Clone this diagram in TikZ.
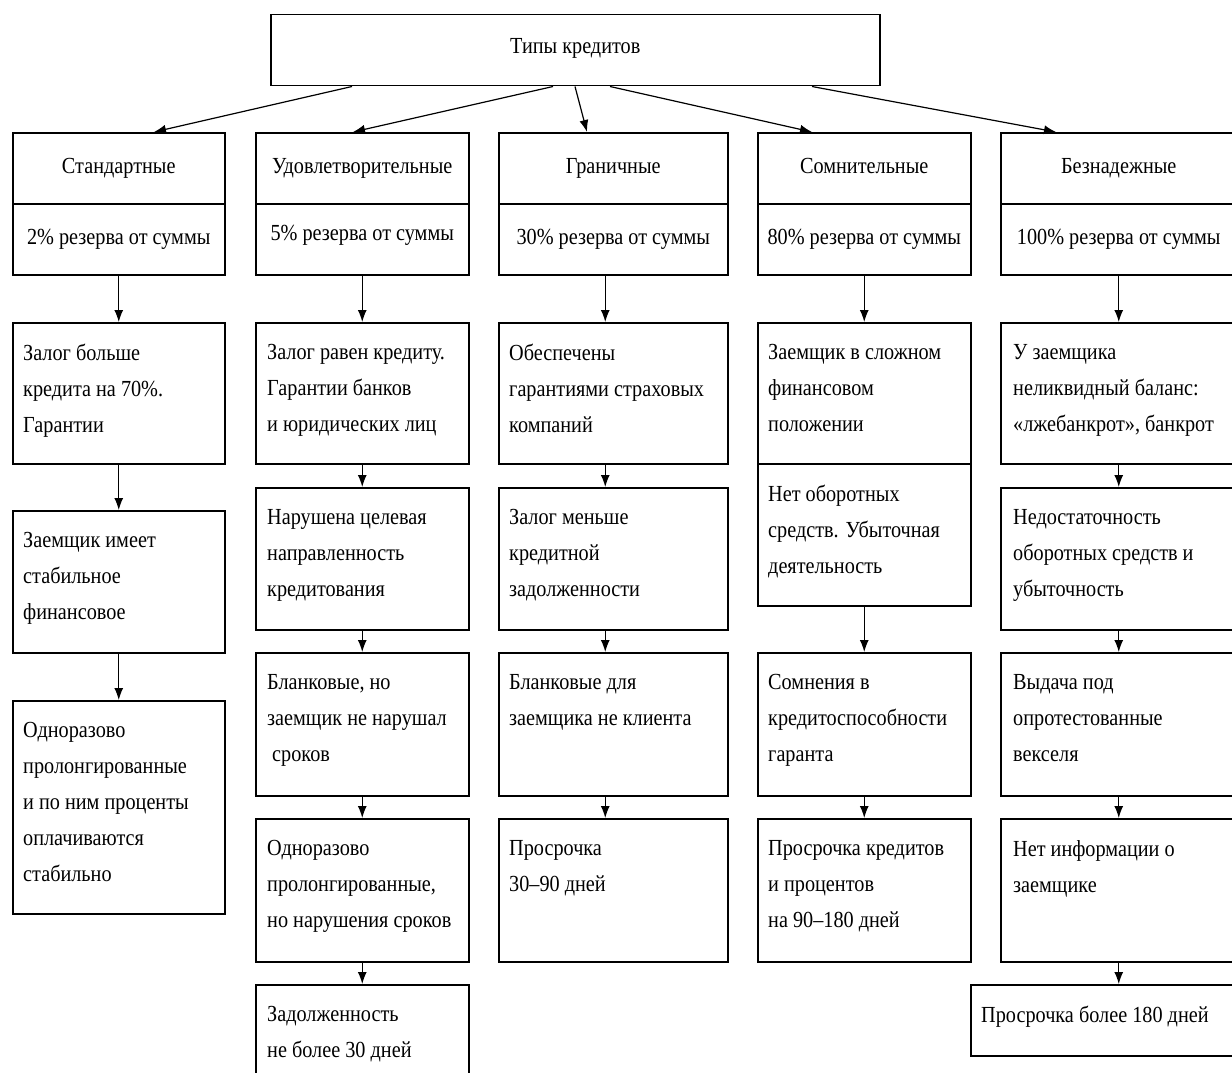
\documentclass[tikz,border=0pt]{standalone}
\usepackage{fontspec}
\setmainfont[FakeStretch=0.88]{Liberation Serif}
\usetikzlibrary{arrows.meta}

\begin{document}
\begin{tikzpicture}[x=1pt, y=-1pt,
        every node/.style={font=\fontsize{23}{36}\selectfont},
        box/.style={draw, line width=1.5pt, anchor=north west, inner sep=0pt},
        head/.style={box, minimum height=71, text height=15pt, text depth=5pt},
        txt/.style={anchor=north west, inner sep=0pt, align=left},
        arr/.style={line width=1.2pt, -{Latex[length=12pt,width=9pt]}}]
    \useasboundingbox (0,0) rectangle (1232,1073);

    % top box
    \node[box, minimum width=609, minimum height=71] (top) at (270,14) {\raisebox{9pt}{Типы кредитов}};

    % categories and reserves
    \node[head, minimum width=212] (h1) at (12,132) {Стандартные};
    \node[head, minimum width=213] (h2) at (255,132) {Удовлетворительные};
    \node[head, minimum width=229] (h3) at (498,132) {Граничные};
    \node[head, minimum width=213] (h4) at (757,132) {Сомнительные};
    \node[head, minimum width=236] (h5) at (1000,132) {Безнадежные};
    \node[head, minimum width=212] (p1) at (12,203) {2\% резерва от суммы};
    \node[head, minimum width=213] (p2) at (255,203) {\raisebox{4pt}{5\% резерва от суммы}};
    \node[head, minimum width=229] (p3) at (498,203) {30\% резерва от суммы};
    \node[head, minimum width=213] (p4) at (757,203) {80\% резерва от суммы};
    \node[head, minimum width=236] (p5) at (1000,203) {100\% резерва от суммы};

    \draw[arr] ([xshift=82]top.south west) -- ([xshift=142]h1.north west);
    \draw[arr] ([xshift=283]top.south west) -- ([xshift=98]h2.north west);
    \draw[arr] ([xshift=305]top.south west) -- ([xshift=89]h3.north west);
    \draw[arr] ([xshift=340]top.south west) -- ([xshift=55]h4.north west);
    \draw[arr] ([xshift=542]top.south west) -- ([xshift=56]h5.north west);

    % standard
    \node[box, minimum width=212, minimum height=141] (s1) at (12,322) {};
    \node[box, minimum width=212, minimum height=142] (s2) at (12,510) {};
    \node[box, minimum width=212, minimum height=213] (s3) at (12,700) {};
    \node[txt] (s1t) at ([shift={(11,22)}]s1.north west) {Залог больше\\кредита на 70\%.\\Гарантии};
    \node[txt] (s2t) at ([shift={(11,22)}]s2.north west) {Заемщик имеет\\стабильное\\финансовое};
    \node[txt] (s3t) at ([shift={(11,22)}]s3.north west) {Одноразово\\пролонгированные\\и по ним проценты\\оплачиваются\\стабильно};
    \draw[arr] (p1.south) -- (s1.north);
    \draw[arr] (s1.south) -- (s2.north);
    \draw[arr] (s2.south) -- (s3.north);

    % satisfactory
    \node[box, minimum width=213, minimum height=141] (u1) at (255,322) {};
    \node[box, minimum width=213, minimum height=142] (u2) at (255,487) {};
    \node[box, minimum width=213, minimum height=143] (u3) at (255,652) {};
    \node[box, minimum width=213, minimum height=143] (u4) at (255,818) {};
    \node[box, minimum width=213, minimum height=100] (u5) at (255,984) {};
    \node[txt] (u1t) at ([shift={(12,22)}]u1.north west) {Залог равен кредиту.\\Гарантии банков\\и юридических лиц};
    \node[txt] (u2t) at ([shift={(12,22)}]u2.north west) {Нарушена целевая\\направленность\\кредитования};
    \node[txt] (u3t) at ([shift={(12,22)}]u3.north west) {Бланковые, но\\заемщик не нарушал\\\hspace*{5pt}сроков};
    \node[txt] (u4t) at ([shift={(12,22)}]u4.north west) {Одноразово\\пролонгированные,\\но нарушения сроков};
    \node[txt] (u5t) at ([shift={(12,22)}]u5.north west) {Задолженность\\не более 30 дней};
    \draw[arr] (p2.south) -- (u1.north);
    \draw[arr] (u1.south) -- (u2.north);
    \draw[arr] (u2.south) -- (u3.north);
    \draw[arr] (u3.south) -- (u4.north);
    \draw[arr] (u4.south) -- (u5.north);

    % borderline
    \node[box, minimum width=229, minimum height=141] (g1) at (498,322) {};
    \node[box, minimum width=229, minimum height=142] (g2) at (498,487) {};
    \node[box, minimum width=229, minimum height=143] (g3) at (498,652) {};
    \node[box, minimum width=229, minimum height=143] (g4) at (498,818) {};
    \node[txt] (g1t) at ([shift={(11,22)}]g1.north west) {Обеспечены\\гарантиями страховых\\компаний};
    \node[txt] (g2t) at ([shift={(11,22)}]g2.north west) {Залог меньше\\кредитной\\задолженности};
    \node[txt] (g3t) at ([shift={(11,22)}]g3.north west) {Бланковые для\\заемщика не клиента};
    \node[txt] (g4t) at ([shift={(11,22)}]g4.north west) {Просрочка\\30--90 дней};
    \draw[arr] ([xshift=-8]p3.south) -- ([xshift=-8]g1.north);
    \draw[arr] ([xshift=-8]g1.south) -- ([xshift=-8]g2.north);
    \draw[arr] ([xshift=-8]g2.south) -- ([xshift=-8]g3.north);
    \draw[arr] ([xshift=-8]g3.south) -- ([xshift=-8]g4.north);

    % doubtful
    \node[box, minimum width=213, minimum height=141] (d1) at (757,322) {};
    \node[box, minimum width=213, minimum height=142] (d2) at (757,463) {};
    \node[box, minimum width=213, minimum height=143] (d3) at (757,652) {};
    \node[box, minimum width=213, minimum height=143] (d4) at (757,818) {};
    \node[txt] (d1t) at ([shift={(11,22)}]d1.north west) {Заемщик в сложном\\финансовом\\положении};
    \node[txt] (d2t) at ([shift={(11,22)}]d2.north west) {Нет оборотных\\средств. Убыточная\\деятельность};
    \node[txt] (d3t) at ([shift={(11,22)}]d3.north west) {Сомнения в\\кредитоспособности\\гаранта};
    \node[txt] (d4t) at ([shift={(11,22)}]d4.north west) {Просрочка кредитов\\и процентов\\на 90--180 дней};
    \draw[arr] (p4.south) -- (d1.north);
    \draw[arr] (d2.south) -- (d3.north);
    \draw[arr] (d3.south) -- (d4.north);

    % hopeless
    \node[box, minimum width=236, minimum height=141] (b1) at (1000,322) {};
    \node[box, minimum width=236, minimum height=142] (b2) at (1000,487) {};
    \node[box, minimum width=236, minimum height=143] (b3) at (1000,652) {};
    \node[box, minimum width=236, minimum height=143] (b4) at (1000,818) {};
    \node[box, minimum width=266, minimum height=71] (b5) at (970,984) {};
    \node[txt] (b1t) at ([shift={(13,22)}]b1.north west) {У заемщика\\неликвидный баланс:\\«лжебанкрот», банкрот};
    \node[txt] (b2t) at ([shift={(13,22)}]b2.north west) {Недостаточность\\оборотных средств и\\убыточность};
    \node[txt] (b3t) at ([shift={(13,22)}]b3.north west) {Выдача под\\опротестованные\\векселя};
    \node[txt] (b4t) at ([shift={(13,22)}]b4.north west) {Нет информации о\\заемщике};
    \node[txt] (b5t) at ([shift={(11,22)}]b5.north west) {Просрочка более 180 дней};
    \draw[arr] (p5.south) -- (b1.north);
    \draw[arr] (b1.south) -- (b2.north);
    \draw[arr] (b2.south) -- (b3.north);
    \draw[arr] (b3.south) -- (b4.north);
    \draw[arr] (b4.south) -- (b4.south |- b5.north);
\end{tikzpicture}
\end{document}
